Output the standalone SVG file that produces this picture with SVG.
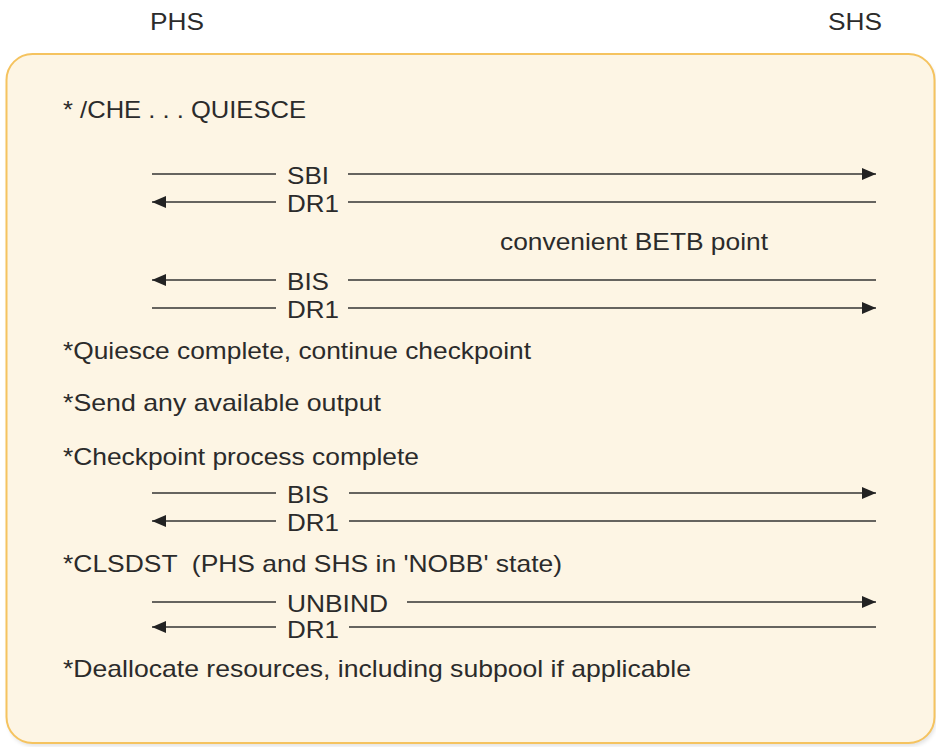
<svg xmlns="http://www.w3.org/2000/svg" width="936" height="747" viewBox="0 0 936 747">
<style>
text{font-family:"Liberation Sans",Arial,Helvetica,sans-serif;font-size:24px;fill:#2b2b2b}
.ln{stroke:#333;stroke-width:1.6;fill:none}
</style>
<defs>
<marker id="ah" markerUnits="userSpaceOnUse" markerWidth="14" markerHeight="12" refX="14" refY="6" orient="auto">
<path d="M0,0 L14,6 L0,12 z" fill="#222"/>
</marker>
<filter id="sh" x="-5%" y="-5%" width="110%" height="110%">
<feGaussianBlur stdDeviation="2"/>
</filter>
</defs>
<rect width="936" height="747" fill="#fff"/>
<g id="headers">
<text x="150" y="30" textLength="54" lengthAdjust="spacingAndGlyphs">PHS</text>
<text x="828" y="30" textLength="54" lengthAdjust="spacingAndGlyphs">SHS</text>
</g>
<g id="frame">
<rect x="8" y="57" width="928" height="689" rx="26" fill="#000" opacity="0.12" filter="url(#sh)"/>
<rect x="6.5" y="54" width="928" height="689" rx="26" fill="#fdf5e4" stroke="#f5c35f" stroke-width="2"/>
</g>
<g id="notes">
<text x="63" y="118" textLength="243" lengthAdjust="spacingAndGlyphs">* /CHE . . . QUIESCE</text>
<text x="500" y="250" textLength="268" lengthAdjust="spacingAndGlyphs">convenient BETB point</text>
<text x="63" y="359" textLength="468" lengthAdjust="spacingAndGlyphs">*Quiesce complete, continue checkpoint</text>
<text x="63" y="411" textLength="318" lengthAdjust="spacingAndGlyphs">*Send any available output</text>
<text x="63" y="465" textLength="356" lengthAdjust="spacingAndGlyphs">*Checkpoint process complete</text>
<text x="63" y="572" textLength="499" lengthAdjust="spacingAndGlyphs" xml:space="preserve">*CLSDST  (PHS and SHS in 'NOBB' state)</text>
<text x="63" y="677" textLength="628" lengthAdjust="spacingAndGlyphs">*Deallocate resources, including subpool if applicable</text>
</g>
<g id="message-labels">
<text x="287" y="184" textLength="42" lengthAdjust="spacingAndGlyphs">SBI</text>
<text x="287" y="212" textLength="52" lengthAdjust="spacingAndGlyphs">DR1</text>
<text x="287" y="290" textLength="42" lengthAdjust="spacingAndGlyphs">BIS</text>
<text x="287" y="318" textLength="52" lengthAdjust="spacingAndGlyphs">DR1</text>
<text x="287" y="503" textLength="42" lengthAdjust="spacingAndGlyphs">BIS</text>
<text x="287" y="531" textLength="52" lengthAdjust="spacingAndGlyphs">DR1</text>
<text x="287" y="612" textLength="101" lengthAdjust="spacingAndGlyphs">UNBIND</text>
<text x="287" y="638" textLength="52" lengthAdjust="spacingAndGlyphs">DR1</text>
</g>
<g id="connectors">
<!-- SBI right -->
<line class="ln" x1="152" y1="174" x2="276" y2="174"/>
<line class="ln" x1="348" y1="174" x2="876" y2="174" marker-end="url(#ah)"/>
<!-- DR1 left -->
<line class="ln" x1="276" y1="202" x2="152" y2="202" marker-end="url(#ah)"/>
<line class="ln" x1="348" y1="202" x2="876" y2="202"/>
<!-- BIS left -->
<line class="ln" x1="276" y1="280" x2="152" y2="280" marker-end="url(#ah)"/>
<line class="ln" x1="348" y1="280" x2="876" y2="280"/>
<!-- DR1 right -->
<line class="ln" x1="152" y1="308" x2="276" y2="308"/>
<line class="ln" x1="348" y1="308" x2="876" y2="308" marker-end="url(#ah)"/>
<!-- BIS right -->
<line class="ln" x1="152" y1="493" x2="276" y2="493"/>
<line class="ln" x1="349" y1="493" x2="876" y2="493" marker-end="url(#ah)"/>
<!-- DR1 left -->
<line class="ln" x1="276" y1="521" x2="152" y2="521" marker-end="url(#ah)"/>
<line class="ln" x1="349" y1="521" x2="876" y2="521"/>
<!-- UNBIND right -->
<line class="ln" x1="152" y1="602" x2="276" y2="602"/>
<line class="ln" x1="407" y1="602" x2="876" y2="602" marker-end="url(#ah)"/>
<!-- DR1 left -->
<line class="ln" x1="276" y1="627" x2="152" y2="627" marker-end="url(#ah)"/>
<line class="ln" x1="349" y1="627" x2="876" y2="627"/>
</g>
</svg>
